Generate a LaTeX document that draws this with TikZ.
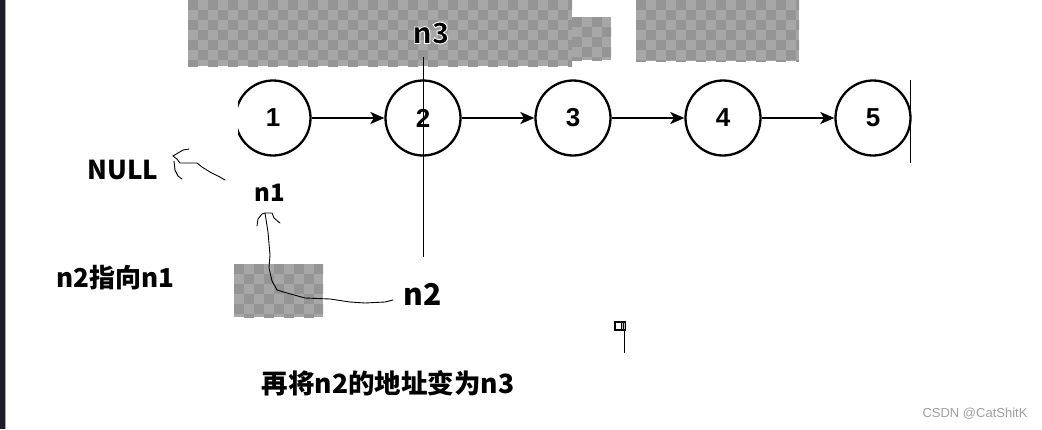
\documentclass[tikz,border=0pt]{standalone}
\usepackage{fontspec}
\setmainfont{Liberation Sans}
\newfontfamily\cjk{Noto Sans CJK SC}
\usetikzlibrary{arrows.meta}
\definecolor{chkL}{HTML}{A7A7A7}
\definecolor{chkD}{HTML}{959595}
\definecolor{barc}{HTML}{1E1C28}
\tikzset{
  listnode/.style={circle,draw,line width=2.3pt,minimum size=75pt,inner sep=0pt,
    font=\fontsize{26}{26}\selectfont\bfseries},
  link/.style={line width=1.8pt,-{Stealth[length=14pt,width=12pt,inset=3.5pt]}},
  hand/.style={line width=0.9pt,line join=round,line cap=round},
  lbl/.style={font=\cjk\bfseries\fontsize{#1}{#1}\selectfont,inner sep=0pt},
  thinline/.style={line width=1pt},
}
\newcommand\chkregion[4]{%
  \begin{scope}
    \clip (#1,#2) rectangle (#3,#4);
    \fill[chkL] (#1,#2) rectangle (#3,#4);
    \pgfmathtruncatemacro\chknx{(#3-#1)/10}
    \pgfmathtruncatemacro\chkny{(#4-#2)/10}
    \foreach \j in {0,...,\chkny}{
      \foreach \i in {0,...,\chknx}{
        \pgfmathtruncatemacro\chkpar{mod(\i+\j,2)}
        \ifnum\chkpar=0 \fill[chkD] ({#1+\i*10},{#2+\j*10}) rectangle +(10,10);\fi
      }}
  \end{scope}}
\newcommand\haloed[1]{\special{pdf:literal 2 Tr 0.9 w 1 1 1 RG}#1\special{pdf:literal 0 Tr 0 0 0 RG}}
\begin{document}
\begin{tikzpicture}[x=1pt,y=-1pt]
\useasboundingbox (0,0) rectangle (1042,429);
\fill[white] (0,0) rectangle (1042,429);
% left dark bar
\fill[barc] (0,0) rectangle (5,429);
\fill[gray!70] (5,0) rectangle (6,429);
% checkered regions
\chkregion{188}{0}{572}{66}
\chkregion{572}{17}{611}{60}
\chkregion{636}{0}{799}{61}
\chkregion{234}{264}{323}{317}
% list nodes
\begin{scope}
  \clip (238,70) rectangle (330,170);
  \node[listnode] (c1) at (273,118) {1};
\end{scope}
\node[listnode] (c2) at (423,118) {2};
\node[listnode] (c3) at (573,118) {3};
\node[listnode] (c4) at (723,118) {4};
\node[listnode] (c5) at (873,118) {5};
\draw[link] (c1) -- (c2);
\draw[link] (c2) -- (c3);
\draw[link] (c3) -- (c4);
\draw[link] (c4) -- (c5);
% cursor line
\coordinate (cura) at (910,80);
\coordinate (curb) at (910,163);
\draw[thinline] (cura) -- (curb);
% n3 label with white outline
\node[lbl=29] (n3) at (431,33) {\haloed{n3}};
\coordinate (n3low) at (423,257);
\draw[thinline] (423,57) -- (n3low);
% labels
\node[lbl=26] (null) at (123,170) {NULL};
\node[lbl=24] (n1) at (270,193) {n1};
\node[lbl=30] (n2) at (423,294) {n2};
\node[lbl=26] (txt1) at (115,278) {n2指向n1};
\node[lbl=26.5] (txt2) at (388,383) {再将n2的地址变为n3};
% hand-drawn arrow to NULL
\coordinate (nulltail) at (225,180);
\coordinate (nulltip) at (173,156);
\draw[hand] (nulltail) -- (218,176) -- (210,172) -- (202,167) -- (197,163)
  -- (187,163) -- (180,163) -- (177,159) -- (nulltip);
\draw[hand] (nulltip) -- (178,153) -- (183,150) -- (189,149);
\draw[hand] (174,161) -- (175,170) -- (178,176) -- (182,179);
% hand-drawn arrow n2 -> n1
\coordinate (n2tail) at (393,300);
\coordinate (n1tip) at (265,213);
\draw[hand] (n2tail) -- (385,302) -- (365,303) -- (350,302) -- (330,299)
  -- (305,298) -- (287,293) -- (277,290) -- (272,281) -- (269,268)
  -- (270,255) -- (268,232) -- (n1tip);
\draw[hand] (257,226) -- (258,219) -- (262,214) -- (n1tip) -- (272,213)
  -- (274,218) -- (280,223);
% small icon
\fill[black] (614,321) rectangle (626,331);
\fill[white] (616,323) rectangle (621,329);
\fill[gray!50] (622,323) rectangle (625,329);
\draw[black,line width=0.6pt] (623.5,323) -- (623.5,329);
\coordinate (icb) at (624,331);
\coordinate (ice) at (624,353);
\draw[thinline] (icb) -- (ice);
% watermark
\node[font=\fontsize{13}{13}\selectfont,text=gray!75,inner sep=0pt] (wm) at (975,414) {CSDN @CatShitK};
\end{tikzpicture}
\end{document}
